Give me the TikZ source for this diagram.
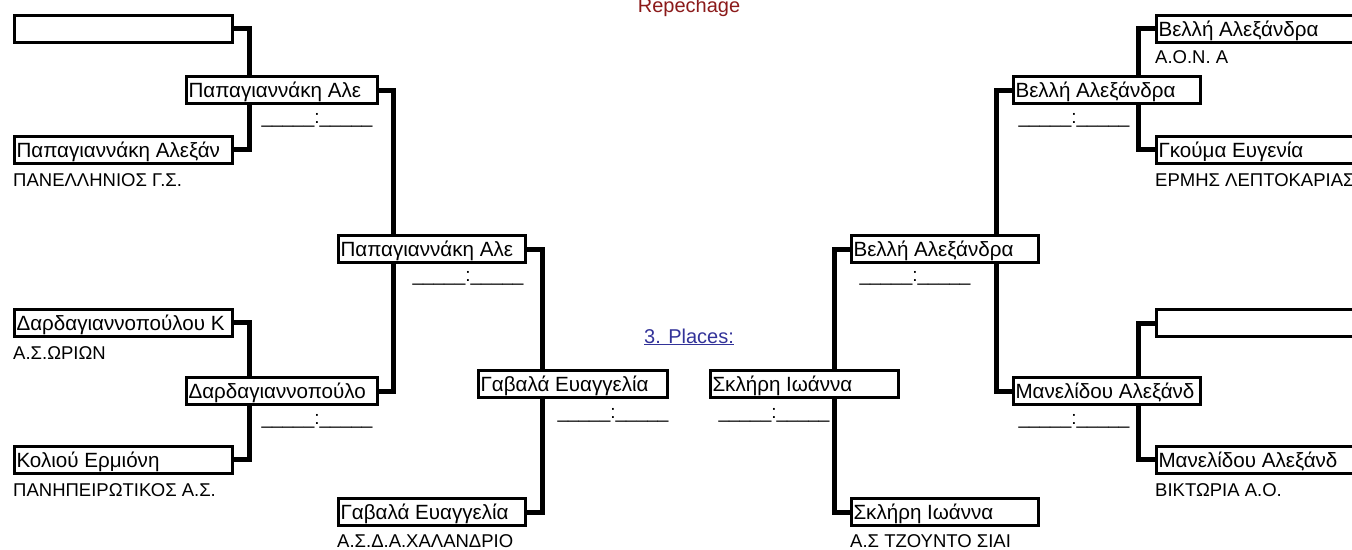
\documentclass[tikz,border=0pt]{standalone}
\usepackage{fontspec}
\setmainfont{Liberation Sans}
\usetikzlibrary{backgrounds}
\definecolor{repred}{HTML}{8B1A1A}
\definecolor{placeblue}{HTML}{333399}
\newcommand{\boxtxt}[2]{\makebox[#1pt][l]{#2}}
\newcommand{\scoretxt}{\_\_\_\_\_:\_\_\_\_\_}
\begin{document}
\begin{tikzpicture}[x=1pt,y=-1pt,
  box/.style={draw, line width=3pt, fill=white, anchor=west, minimum height=27pt,
    inner xsep=2.5pt, inner ysep=0pt, text height=16pt, text depth=1pt,
    font=\fontsize{20.6}{25}\selectfont},
  conn/.style={line width=5pt},
  club/.style={anchor=base west, inner sep=0pt, font=\fontsize{18.5}{22}\selectfont},
  score/.style={anchor=base, inner sep=0pt, font=\fontsize{19}{22}\selectfont},
  title/.style={anchor=base, inner sep=0pt, font=\fontsize{20}{24}\selectfont}]
\useasboundingbox (0,0) rectangle (1352,549);

% left side
\node[box] (L1) at (12.5,28.5) {\boxtxt{213}{}};
\node[box] (L3) at (12.5,149.5) {\boxtxt{213}{Παπαγιαννάκη Αλεξάν}};
\node[box] (L5) at (12.5,322.5) {\boxtxt{213}{Δαρδαγιαννοπούλου Κ}};
\node[box] (L8) at (12.5,459.5) {\boxtxt{213}{Κολιού Ερμιόνη}};
\node[box] (L2) at (184.5,90) {\boxtxt{186}{Παπαγιαννάκη Αλε}};
\node[box] (L6) at (184.5,391) {\boxtxt{186}{Δαρδαγιαννοπούλο}};
\node[box] (L4) at (336.5,249) {\boxtxt{182}{Παπαγιαννάκη Αλε}};
\node[box] (L9) at (336.5,512) {\boxtxt{182}{Γαβαλά Ευαγγελία}};
\node[box] (L7) at (476.5,384) {\boxtxt{184}{Γαβαλά Ευαγγελία}};

% right side
\node[box] (R7) at (708.5,384) {\boxtxt{183}{Σκλήρη Ιωάννα}};
\node[box] (R4) at (849.5,249) {\boxtxt{182}{Βελλή Αλεξάνδρα}};
\node[box] (R9) at (849.5,512) {\boxtxt{182}{Σκλήρη Ιωάννα}};
\node[box] (R2) at (1011.5,90) {\boxtxt{182}{Βελλή Αλεξάνδρα}};
\node[box] (R6) at (1011.5,391) {\boxtxt{182}{Μανελίδου Αλεξάνδ}};
\node[box] (R1) at (1154.5,28.5) {\boxtxt{211}{Βελλή Αλεξάνδρα}};
\node[box] (R3) at (1154.5,149.5) {\boxtxt{211}{Γκούμα Ευγενία}};
\node[box] (R5) at (1154.5,323) {\boxtxt{211}{}};
\node[box] (R8) at (1154.5,459.5) {\boxtxt{211}{Μανελίδου Αλεξάνδ}};

% connectors
\begin{pgfonlayer}{background}
\draw[conn] (L1.east) -- ++(15.5,0) |- (L3.east);
\draw[conn] (L5.east) -- ++(15.5,0) |- (L8.east);
\draw[conn] (L2.east) -- ++(14.5,0) |- (L6.east);
\draw[conn] (L4.east) -- ++(15.5,0) |- (L9.east);
\draw[conn] (R4.west) -- ++(-15.5,0) |- (R9.west);
\draw[conn] (R2.west) -- ++(-15.5,0) |- (R6.west);
\draw[conn] (R1.west) -- ++(-16.5,0) |- (R3.west);
\draw[conn] (R5.west) -- ++(-16.5,0) |- (R8.west);
\end{pgfonlayer}

% clubs
\node[club] (cL3) at (13,186) {ΠΑΝΕΛΛΗΝΙΟΣ Γ.Σ.};
\node[club] (cL5) at (13,359) {Α.Σ.ΩΡΙΩΝ};
\node[club] (cL8) at (13,496) {ΠΑΝΗΠΕΙΡΩΤΙΚΟΣ Α.Σ.};
\node[club] (cL9) at (337,547) {Α.Σ.Δ.Α.ΧΑΛΑΝΔΡΙΟ};
\node[club] (cR9) at (850,547) {Α.Σ ΤΖΟΥΝΤΟ ΣΙΑΙ};
\node[club] (cR1) at (1155,63) {Α.Ο.Ν. Α};
\node[club] (cR3) at (1155,186) {ΕΡΜΗΣ ΛΕΠΤΟΚΑΡΙΑΣ};
\node[club] (cR8) at (1155,496) {ΒΙΚΤΩΡΙΑ Α.Ο.};

% scores
\node[score] (sL2) at (317,123) {\scoretxt};
\node[score] (sL6) at (317,424) {\scoretxt};
\node[score] (sL4) at (468,281) {\scoretxt};
\node[score] (sL7) at (613,418) {\scoretxt};
\node[score] (sR7) at (774,418) {\scoretxt};
\node[score] (sR4) at (915,281) {\scoretxt};
\node[score] (sR2) at (1074,123) {\scoretxt};
\node[score] (sR6) at (1074,424) {\scoretxt};

% titles
\node[title, text=repred] (rep) at (689,12) {Repechage};
\node[title, text=placeblue] (places) at (689,343) {\underline{3. Places:}};
\end{tikzpicture}
\end{document}
